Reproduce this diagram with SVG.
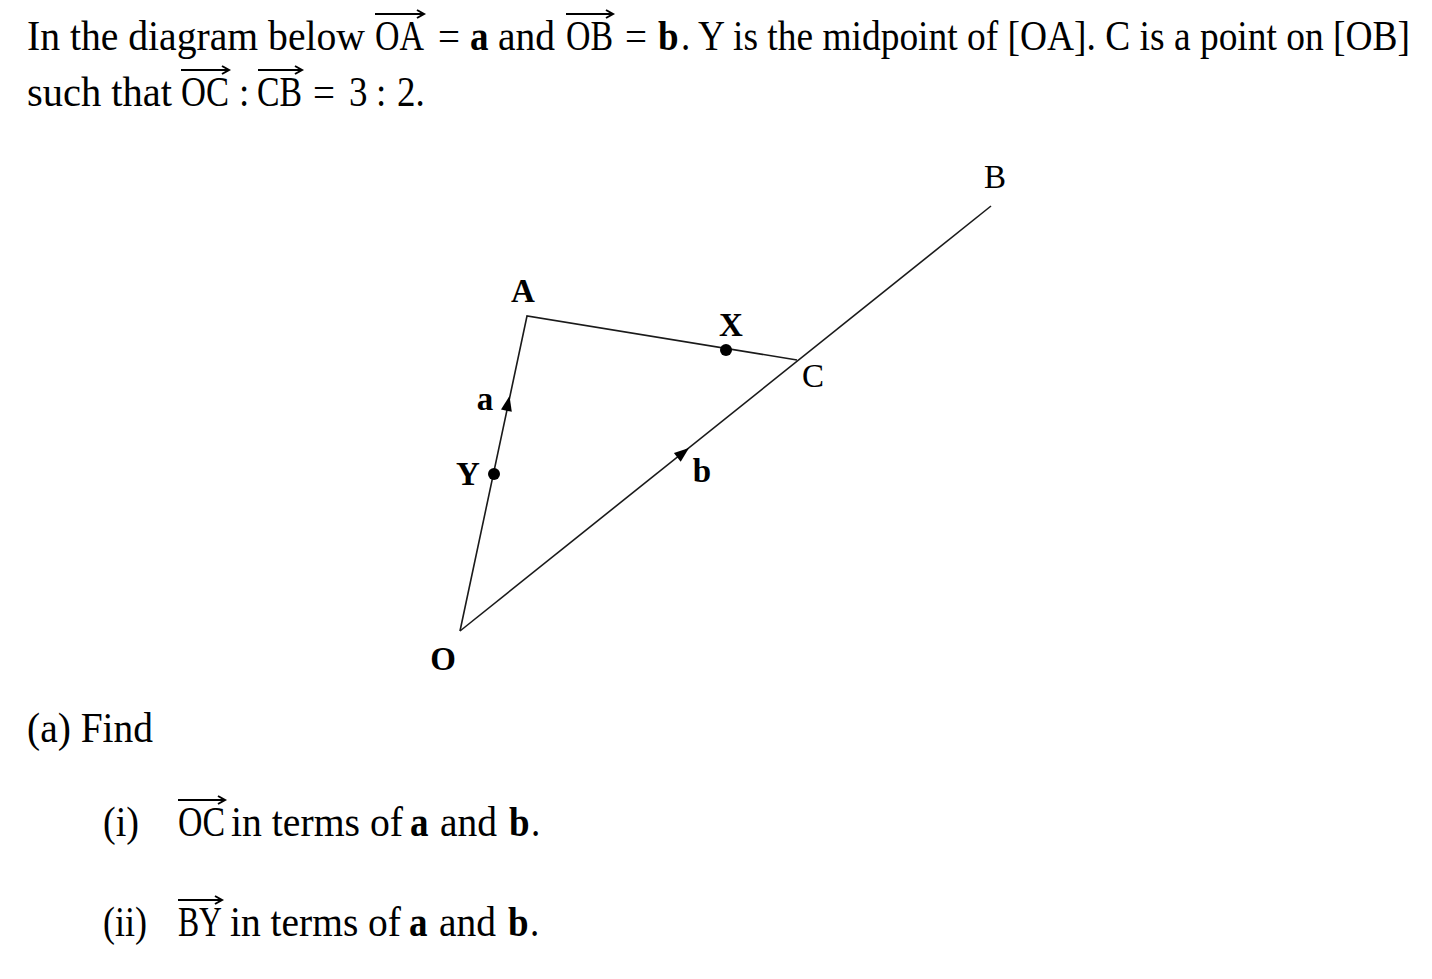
<svg xmlns="http://www.w3.org/2000/svg" width="1432" height="979" viewBox="0 0 1432 979">
<style>
.t{font-family:"Liberation Serif","Times New Roman",serif;font-size:37px;fill:#000}
.b{font-weight:bold}
.lbl{font-family:"Liberation Serif","Times New Roman",serif;font-size:33px;fill:#000;text-anchor:middle}
.vec{fill:none;stroke:#000;stroke-width:2}
.seg{stroke:#1a1a1a;stroke-width:1.6;fill:none}
.dot{fill:#000}
.ah{fill:#000}
</style>
<rect width="1432" height="979" fill="#fff"/>
<g id="header">
<g transform="translate(0,50) scale(1,1.13)"><text class="t" y="0"><tspan x="27" textLength="338" lengthAdjust="spacingAndGlyphs">In the diagram below</tspan><tspan x="375" textLength="49" lengthAdjust="spacingAndGlyphs">OA</tspan><tspan x="438" textLength="22" lengthAdjust="spacingAndGlyphs">=</tspan><tspan class="b" x="470">a</tspan><tspan x="498" textLength="57" lengthAdjust="spacingAndGlyphs">and</tspan><tspan x="566" textLength="47" lengthAdjust="spacingAndGlyphs">OB</tspan><tspan x="625" textLength="22" lengthAdjust="spacingAndGlyphs">=</tspan><tspan class="b" x="658">b</tspan><tspan x="681">.</tspan><tspan x="698" textLength="712" lengthAdjust="spacingAndGlyphs">Y is the midpoint of [OA]. C is a point on [OB]</tspan></text></g>
<path class="vec" d="M375 14H424M417 10L424 14L417 18"/>
<path class="vec" d="M566 14H613M606 10L613 14L606 18"/>
<g transform="translate(0,106) scale(1,1.13)"><text class="t" y="0"><tspan x="27" textLength="145" lengthAdjust="spacingAndGlyphs">such that</tspan><tspan x="181" textLength="48" lengthAdjust="spacingAndGlyphs">OC</tspan><tspan x="239">:</tspan><tspan x="257" textLength="45" lengthAdjust="spacingAndGlyphs">CB</tspan><tspan x="313" textLength="22" lengthAdjust="spacingAndGlyphs">=</tspan><tspan x="349">3</tspan><tspan x="376">:</tspan><tspan x="397">2.</tspan></text></g>
<path class="vec" d="M181 70H229M222 66L229 70L222 74"/>
<path class="vec" d="M258 70H302M295 66L302 70L295 74"/>
</g>
<g id="connectors">
<path class="seg" d="M460 631L527 316L797 360"/>
<path class="seg" d="M460 631L991 206"/>
<polygon class="ah" points="509.5,396 511.8,411.8 501,409.6"/>
<polygon class="ah" points="689,448 680.7,461.7 673.9,453.1"/>
</g>
<g id="node-O"><text class="lbl b" x="443" y="670">O</text></g>
<g id="node-A"><text class="lbl b" x="523" y="302">A</text></g>
<g id="node-B"><text class="lbl" x="995" y="188">B</text></g>
<g id="node-C"><text class="lbl" x="813" y="387">C</text></g>
<g id="node-X"><circle class="dot" cx="726" cy="350" r="6"/><text class="lbl b" x="731" y="336">X</text></g>
<g id="node-Y"><circle class="dot" cx="494" cy="474" r="6"/><text class="lbl b" x="468" y="485">Y</text></g>
<g id="label-a"><text class="lbl b" x="485" y="410">a</text></g>
<g id="label-b"><text class="lbl b" x="702" y="482">b</text></g>
<g id="questions">
<g transform="translate(0,742) scale(1,1.13)"><text class="t" y="0"><tspan x="27" textLength="126" lengthAdjust="spacingAndGlyphs">(a) Find</tspan></text></g>
<g transform="translate(0,836) scale(1,1.13)"><text class="t" y="0"><tspan x="103" textLength="36" lengthAdjust="spacingAndGlyphs">(i)</tspan><tspan x="178" textLength="47" lengthAdjust="spacingAndGlyphs">OC</tspan><tspan x="231" textLength="172" lengthAdjust="spacingAndGlyphs">in terms of</tspan><tspan class="b" x="410">a</tspan><tspan x="440" textLength="57" lengthAdjust="spacingAndGlyphs">and</tspan><tspan class="b" x="509">b</tspan><tspan x="531">.</tspan></text></g>
<path class="vec" d="M178 800H225M218 796L225 800L218 804"/>
<g transform="translate(0,936) scale(1,1.13)"><text class="t" y="0"><tspan x="103" textLength="44" lengthAdjust="spacingAndGlyphs">(ii)</tspan><tspan x="178" textLength="44" lengthAdjust="spacingAndGlyphs">BY</tspan><tspan x="230" textLength="171" lengthAdjust="spacingAndGlyphs">in terms of</tspan><tspan class="b" x="409">a</tspan><tspan x="439" textLength="57" lengthAdjust="spacingAndGlyphs">and</tspan><tspan class="b" x="508">b</tspan><tspan x="530">.</tspan></text></g>
<path class="vec" d="M178 900H222M215 896L222 900L215 904"/>
</g>
</svg>
